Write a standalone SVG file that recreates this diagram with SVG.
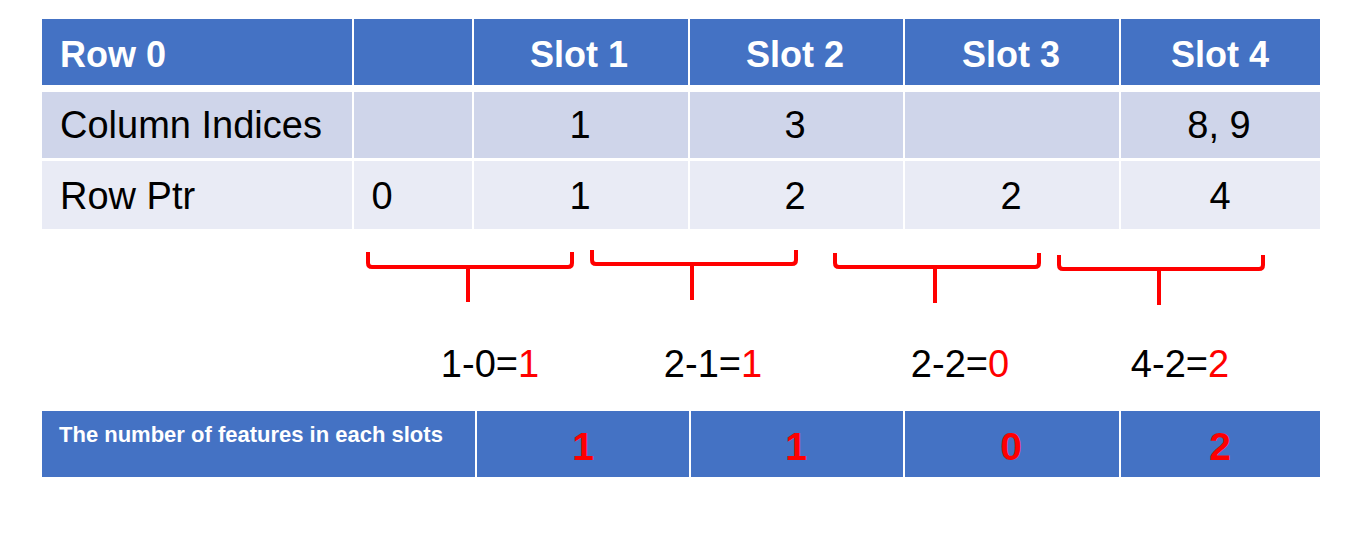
<svg xmlns="http://www.w3.org/2000/svg" width="1353" height="543" viewBox="0 0 1353 543">
<style>
  .hdr { fill: #4472C4; }
  .r1 { fill: #CFD5EA; }
  .r2 { fill: #E9EBF5; }
  .ht { font-family: "Liberation Sans", Arial, sans-serif; font-weight: bold; font-size: 36px; fill: #FFFFFF; }
  .bt { font-family: "Liberation Sans", Arial, sans-serif; font-size: 38px; fill: #000000; }
  .st { font-family: "Liberation Sans", Arial, sans-serif; font-weight: bold; font-size: 22px; fill: #FFFFFF; }
  .rn { font-family: "Liberation Sans", Arial, sans-serif; font-weight: bold; font-size: 39px; fill: #FF0000; }
  .red { fill: #FF0000; }
  .mid { text-anchor: middle; }
  .brace { fill: none; stroke: #FF0000; stroke-width: 4; stroke-linejoin: round; stroke-linecap: butt; }
</style>
<rect width="1353" height="543" fill="#FFFFFF"/>

<g id="table">
  <g id="header-row">
    <rect class="hdr" x="42" y="19" width="310" height="66"/>
    <rect class="hdr" x="354" y="19" width="118" height="66"/>
    <rect class="hdr" x="474" y="19" width="214" height="66"/>
    <rect class="hdr" x="690" y="19" width="213" height="66"/>
    <rect class="hdr" x="905" y="19" width="214" height="66"/>
    <rect class="hdr" x="1121" y="19" width="199" height="66"/>
    <text class="ht" x="60" y="67">Row 0</text>
    <text class="ht mid" x="579" y="67">Slot 1</text>
    <text class="ht mid" x="795" y="67">Slot 2</text>
    <text class="ht mid" x="1011" y="67">Slot 3</text>
    <text class="ht mid" x="1220" y="67">Slot 4</text>
  </g>
  <g id="column-indices-row">
    <rect class="r1" x="42" y="92" width="310" height="66"/>
    <rect class="r1" x="354" y="92" width="118" height="66"/>
    <rect class="r1" x="474" y="92" width="214" height="66"/>
    <rect class="r1" x="690" y="92" width="213" height="66"/>
    <rect class="r1" x="905" y="92" width="214" height="66"/>
    <rect class="r1" x="1121" y="92" width="199" height="66"/>
    <text class="bt" x="60" y="138">Column Indices</text>
    <text class="bt mid" x="580" y="138">1</text>
    <text class="bt mid" x="795" y="138">3</text>
    <text class="bt mid" x="1219" y="138">8, 9</text>
  </g>
  <g id="row-ptr-row">
    <rect class="r2" x="42" y="161" width="310" height="68"/>
    <rect class="r2" x="354" y="161" width="118" height="68"/>
    <rect class="r2" x="474" y="161" width="214" height="68"/>
    <rect class="r2" x="690" y="161" width="213" height="68"/>
    <rect class="r2" x="905" y="161" width="214" height="68"/>
    <rect class="r2" x="1121" y="161" width="199" height="68"/>
    <text class="bt" x="60" y="209">Row Ptr</text>
    <text class="bt mid" x="382" y="209">0</text>
    <text class="bt mid" x="580" y="209">1</text>
    <text class="bt mid" x="795" y="209">2</text>
    <text class="bt mid" x="1011" y="209">2</text>
    <text class="bt mid" x="1220" y="209">4</text>
  </g>
</g>

<g id="connectors">
  <path class="brace" d="M368,252 L368,263 Q368,267 372,267 L568,267 Q572,267 572,263 L572,252"/>
  <path class="brace" d="M468,267 L468,302"/>
  <path class="brace" d="M592,250 L592,260 Q592,264 596,264 L792,264 Q796,264 796,260 L796,250"/>
  <path class="brace" d="M692,264 L692,300"/>
  <path class="brace" d="M835,253 L835,263 Q835,267 839,267 L1035,267 Q1039,267 1039,263 L1039,253"/>
  <path class="brace" d="M935,267 L935,303"/>
  <path class="brace" d="M1059,255 L1059,265 Q1059,269 1063,269 L1259,269 Q1263,269 1263,265 L1263,255"/>
  <path class="brace" d="M1159,269 L1159,305"/>
</g>

<g id="equations">
  <text class="bt mid" x="490" y="377">1-0=<tspan class="red">1</tspan></text>
  <text class="bt mid" x="713" y="377">2-1=<tspan class="red">1</tspan></text>
  <text class="bt mid" x="960" y="377">2-2=<tspan class="red">0</tspan></text>
  <text class="bt mid" x="1180" y="377">4-2=<tspan class="red">2</tspan></text>
</g>

<g id="features-row">
  <rect class="hdr" x="42" y="411" width="433" height="66"/>
  <rect class="hdr" x="477" y="411" width="212" height="66"/>
  <rect class="hdr" x="691" y="411" width="212" height="66"/>
  <rect class="hdr" x="905" y="411" width="214" height="66"/>
  <rect class="hdr" x="1121" y="411" width="199" height="66"/>
  <text class="st" x="59" y="442">The number of features in each slots</text>
  <text class="rn mid" x="583" y="460">1</text>
  <text class="rn mid" x="796" y="460">1</text>
  <text class="rn mid" x="1011" y="460">0</text>
  <text class="rn mid" x="1220" y="460">2</text>
</g>
</svg>
